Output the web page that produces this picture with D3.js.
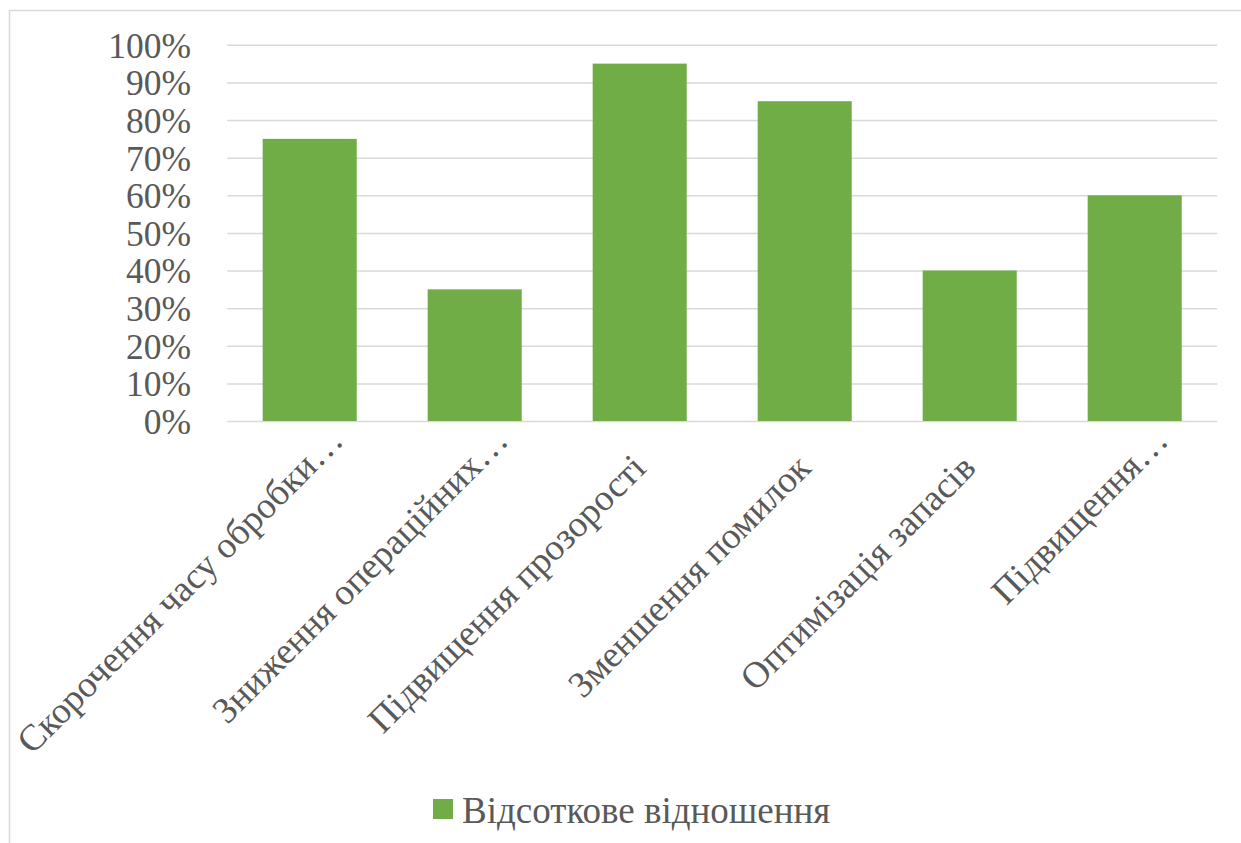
<!DOCTYPE html>
<html>
<head>
<meta charset="utf-8">
<script src="https://cdn.jsdelivr.net/npm/d3@7"></script>
</head>
<body style="margin:0">
<svg id="chart" width="1241" height="843" style="display:block;background:#fff"></svg>
<script>
const categories = [
  "Скорочення часу обробки…",
  "Зниження операційних…",
  "Підвищення прозорості",
  "Зменшення помилок",
  "Оптимізація запасів",
  "Підвищення…"
];
const values = [0.75, 0.35, 0.95, 0.85, 0.40, 0.60];
const yTicks = [0, 0.1, 0.2, 0.3, 0.4, 0.5, 0.6, 0.7, 0.8, 0.9, 1.0];
const seriesName = "Відсоткове відношення";

const FONT = "Liberation Serif";
const TXT = "#595959";
const svg = d3.select("#chart");
const W = 1241, H = 843;
const plot = { left: 227.2, right: 1217.2, top: 44.8, bottom: 421 };
const green = "#70ad47";
const grid = "#d9d9d9";

function styleText(sel, size) {
  return sel.attr("font-family", FONT)
    .attr("font-size", size)
    .attr("fill", TXT);
}

// chart border (top and left visible)
svg.append("rect")
  .attr("x", 9.5).attr("y", 10.5)
  .attr("width", W + 20).attr("height", H + 20)
  .attr("fill", "none").attr("stroke", grid).attr("stroke-width", 1.5);

const x = d3.scaleBand()
  .domain(categories)
  .range([plot.left, plot.right])
  .paddingInner(0.43)
  .paddingOuter(0.215);

const y = d3.scaleLinear().domain([0, 1]).range([plot.bottom, plot.top]);

// y axis with gridlines
const yAxis = d3.axisLeft(y)
  .tickValues(yTicks)
  .tickFormat(d3.format(".0%"))
  .tickSize(-(plot.right - plot.left))
  .tickPadding(36);

const gy = svg.append("g")
  .attr("transform", `translate(${plot.left},0)`)
  .call(yAxis)
  .attr("font-family", FONT)
  .attr("font-size", 35.5);
gy.select(".domain").remove();
gy.selectAll(".tick line").attr("stroke", grid).attr("stroke-width", 1.5);
styleText(gy.selectAll(".tick text"), 35.5).attr("dy", "0.35em");

// bars
svg.append("g").selectAll("rect")
  .data(values)
  .join("rect")
  .attr("x", (d, i) => x(categories[i]))
  .attr("y", d => y(d))
  .attr("width", x.bandwidth())
  .attr("height", d => y(0) - y(d))
  .attr("fill", green);

// category labels, rotated -45
const labY = 470;
styleText(svg.append("g").selectAll("text")
  .data(categories)
  .join("text")
  .attr("transform", d => `translate(${x(d) + x.bandwidth() / 2 + 8},${labY}) rotate(-45)`)
  .attr("x", d => d.endsWith("…") ? 39 : 0)
  .attr("text-anchor", "end")
  .text(d => d), 37);

// legend
const lg = svg.append("g");
lg.append("rect")
  .attr("x", 433).attr("y", 799).attr("width", 20).attr("height", 20)
  .attr("fill", green);
styleText(lg.append("text")
  .attr("x", 462).attr("y", 823)
  .text(seriesName), 37);
</script>
</body>
</html>
